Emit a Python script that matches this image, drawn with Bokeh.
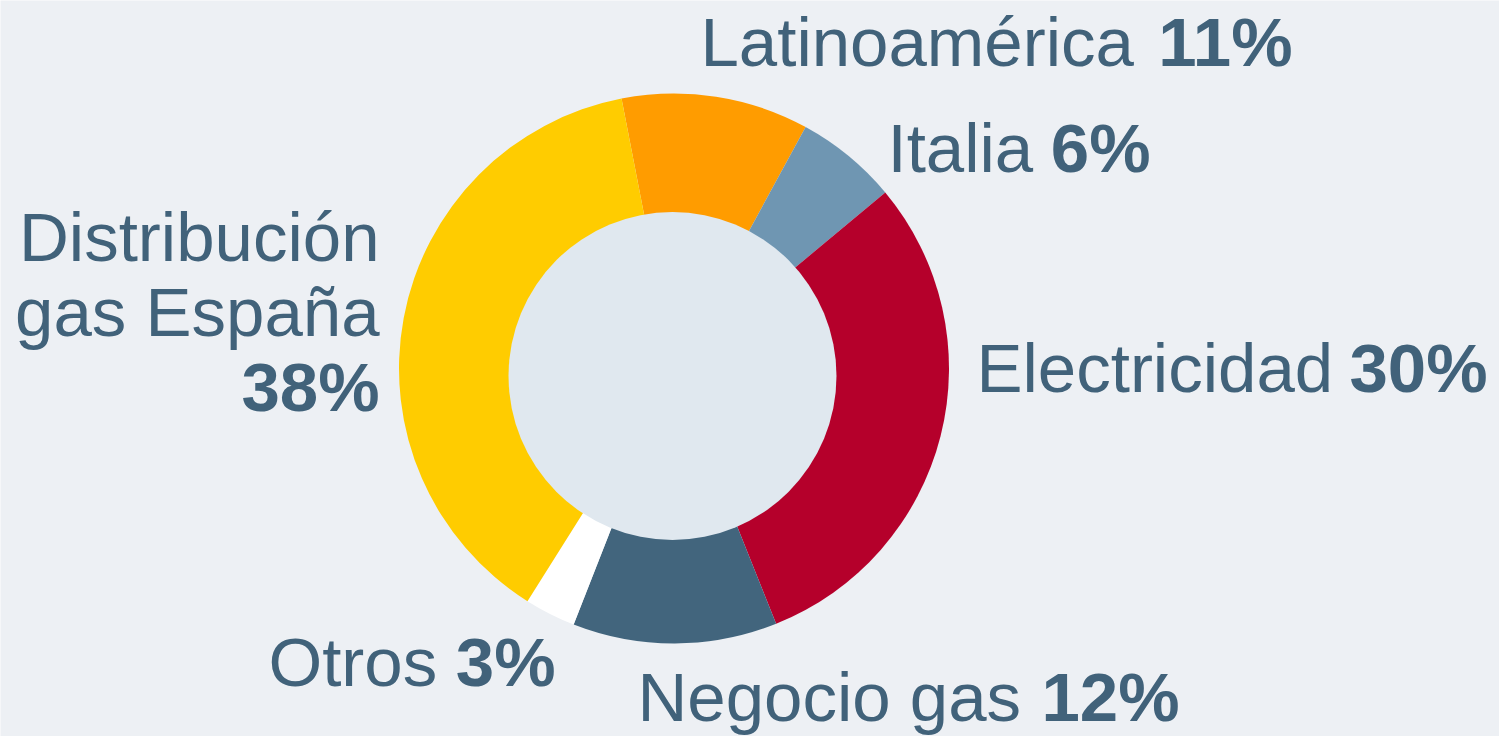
import numpy as np
from bokeh.plotting import figure
from bokeh.models import Range1d, ColumnDataSource
from bokeh.core.properties import value
from bokeh.embed import file_html
from bokeh.resources import INLINE

# ---- data ----
categories = ["Latinoamérica", "Italia", "Electricidad", "Negocio gas", "Otros", "Distribución gas España"]
shares = [11, 6, 30, 12, 3, 38]
colors = ["#FF9C00", "#6F96B2", "#B5002B", "#42657D", "#FFFFFF", "#FFCC00"]
pct_labels = [f"{s}%" for s in shares]

# ---- layout (page pixel coordinates) ----
W, H = 1499, 736
TEXT_SHIFT = 24  # compensates the renderer's baseline offset
def py(y):  # page y (downwards) -> data y (upwards)
    return H - y

def ty(y):
    return H - (y - TEXT_SHIFT)

TEXT_COLOR = "#41627A"
BG = "#EDF0F4"
FONT = value("Liberation Sans")
FS = "69px"

p = figure(width=W, height=H, output_backend="svg", toolbar_location=None,
           x_range=Range1d(0, W), y_range=Range1d(0, H),
           min_border=0, background_fill_color=BG, border_fill_color=BG,
           outline_line_color=None)
p.axis.visible = False
p.grid.visible = False

# donut wedges (clockwise from top, starting slightly left of 12 o'clock)
start_deg = -11.0
cum = np.concatenate([[0], np.cumsum(shares)]) / np.sum(shares) * 360.0
theta_a = start_deg + cum[:-1]
theta_b = start_deg + cum[1:]
src = ColumnDataSource(dict(
    start=np.radians(90 - theta_b), end=np.radians(90 - theta_a),
    color=colors, cat=categories))
cx, cy, R = 673.5, py(368), 275
p.wedge(x=cx, y=cy, radius=R, start_angle="start", end_angle="end",
        fill_color="color", line_color=None, source=src)
# inner hole
p.circle(x=672, y=py(375.5), radius=164, fill_color="#E0E8EF", line_color=None)

# labels: (left x, right x, baseline y)
def label(name, pct, left, right, base):
    p.text(x=[left], y=[ty(base)], text=[name + " "], text_font=FONT, text_font_size=FS,
           text_color=TEXT_COLOR, text_align="left", text_baseline="alphabetic")
    p.text(x=[right], y=[ty(base)], text=[pct], text_font=FONT, text_font_size=FS,
           text_font_style="bold", text_color=TEXT_COLOR, text_align="right",
           text_baseline="alphabetic")

label(categories[0], pct_labels[0], 700, 1292, 66)
label(categories[1], pct_labels[1], 887, 1150, 172)
label(categories[2], pct_labels[2], 976, 1487, 392)
label(categories[3], pct_labels[3], 637, 1179, 721)
label(categories[4], pct_labels[4], 268, 555, 686)

# Distribución gas España: right-aligned, three lines
dist_words = categories[5].split(" ")
dist_lines = [dist_words[0], " ".join(dist_words[1:])]
for i, ln in enumerate(dist_lines):
    p.text(x=[379], y=[ty(261 + 75 * i)], text=[ln], text_font=FONT, text_font_size=FS,
           text_color=TEXT_COLOR, text_align="right", text_baseline="alphabetic")
p.text(x=[379], y=[ty(411)], text=[pct_labels[5]], text_font=FONT, text_font_size=FS,
       text_font_style="bold", text_color=TEXT_COLOR, text_align="right",
       text_baseline="alphabetic")

open("out.html", "w").write(file_html(p, INLINE))
